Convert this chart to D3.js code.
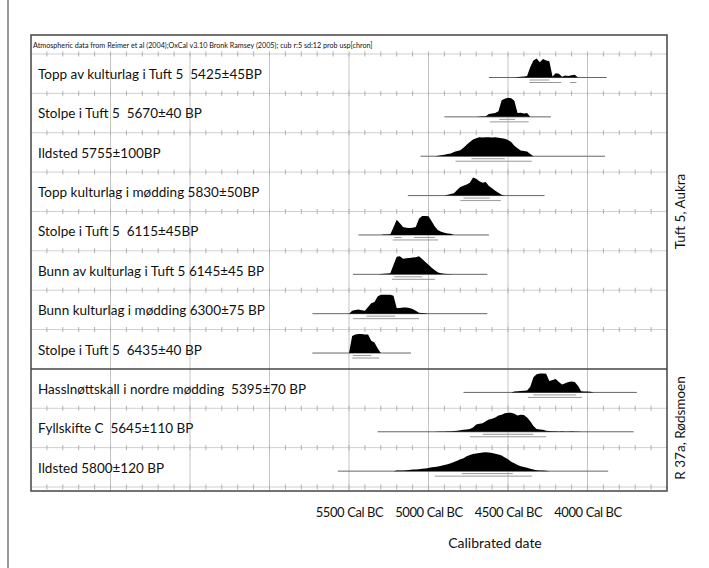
<!DOCTYPE html>
<html>
<head>
<meta charset="utf-8">
<script src="https://cdn.jsdelivr.net/npm/d3@7"></script>
<style>
  body { margin: 0; background: #fff; }
  text { font-family: Lato, "Open Sans", sans-serif; fill: #111; white-space: pre; }
</style>
</head>
<body>
<div id="chart"></div>
<script>
// sample labels, top to bottom
const labels = [
  'Topp av kulturlag i Tuft 5  5425±45BP',
  'Stolpe i Tuft 5  5670±40 BP',
  'Ildsted 5755±100BP',
  'Topp kulturlag i mødding 5830±50BP',
  'Stolpe i Tuft 5  6115±45BP',
  'Bunn av kulturlag i Tuft 5 6145±45 BP',
  'Bunn kulturlag i mødding 6300±75 BP',
  'Stolpe i Tuft 5  6435±40 BP',
  'Hasslnøttskall i nordre mødding  5395±70 BP',
  'Fyllskifte C  5645±110 BP',
  'Ildsted 5800±120 BP'
];
const groupNames = ['Tuft 5, Aukra', 'R 37a, Rødsmoen'];
const groupOf = [0, 0, 0, 0, 0, 0, 0, 0, 1, 1, 1];
const tickLabels = [5500, 5000, 4500, 4000];
const header = 'Atmospheric data from Reimer et al (2004);OxCal v3.10 Bronk Ramsey (2005); cub r:5 sd:12 prob usp[chron]';

// probability curves: first year (BC) and relative density every 20 years
const densityStep = 20;
const densityStart = [4460, 4700, 4960, 4900, 5300, 5320, 5500, 5500, 4480, 4960, 5220];
const densityValues = [
  [0, 3, 4, 5, 8, 55, 90, 100, 80, 98, 90, 85, 5, 22, 20, 4, 10, 8, 12, 14, 0],
  [0, 2, 3, 3, 15, 18, 20, 30, 88, 95, 100, 98, 85, 20, 22, 18, 20, 0],
  [0, 3, 5, 8, 12, 15, 22, 28, 32, 45, 60, 75, 88, 95, 100, 98, 100, 100, 99, 100, 97, 95, 92, 85, 75, 55, 42, 30, 28, 25, 12, 0],
  [0, 4, 8, 12, 30, 45, 52, 58, 68, 95, 88, 75, 68, 72, 50, 38, 25, 15, 5, 0],
  [0, 3, 3, 4, 40, 80, 62, 42, 38, 37, 38, 42, 85, 100, 100, 98, 72, 45, 25, 17, 12, 8, 6, 0],
  [0, 2, 3, 4, 5, 50, 92, 95, 82, 85, 86, 88, 90, 95, 80, 65, 50, 35, 22, 10, 5, 3, 2, 2, 0],
  [0, 15, 20, 22, 18, 15, 35, 55, 62, 90, 100, 100, 100, 99, 95, 30, 30, 32, 33, 30, 25, 15, 5, 3, 2, 0],
  [0, 90, 98, 100, 100, 98, 97, 65, 55, 25, 0],
  [0, 5, 6, 8, 9, 10, 30, 80, 95, 100, 100, 98, 60, 65, 70, 55, 42, 48, 55, 58, 55, 35, 6, 5, 5, 3, 0],
  [0, 1, 2, 2, 3, 3, 4, 6, 8, 10, 12, 15, 22, 38, 42, 45, 55, 65, 68, 75, 85, 90, 97, 100, 100, 95, 85, 90, 88, 75, 55, 30, 15, 12, 10, 6, 4, 3, 3, 2, 3, 2, 2, 3, 2, 1, 0],
  [0, 3, 4, 4, 5, 6, 8, 9, 10, 12, 14, 16, 20, 22, 25, 28, 32, 36, 42, 48, 55, 62, 68, 78, 85, 90, 93, 96, 98, 100, 98, 96, 92, 88, 82, 72, 62, 50, 42, 32, 26, 22, 18, 12, 8, 5, 4, 3, 2, 0]
];
// plotted extent of each row and the 68.2% / 95.4% ranges (years BC)
const extent = [[4620, 3880], [4900, 4230], [5050, 3890], [5130, 4270], [5440, 4620], [5475, 4630], [5730, 4630], [5730, 5110], [4780, 3690], [5320, 3710], [5570, 3870]];
const range68 = [
  [[4365, 4240]], [[4555, 4455]], [[4730, 4520]], [[4780, 4615]], [[5215, 5170], [5090, 4960]],
  [[5215, 5040]], [[5390, 5210]], [[5475, 5360]], [[4340, 4070]], [[4660, 4340]], [[4790, 4470]]
];
const range95 = [
  [[4365, 4165], [4110, 4070]], [[4615, 4370]], [[4830, 4350]], [[4800, 4545]], [[5225, 4940]],
  [[5230, 4960]], [[5475, 5060]], [[5480, 5310]], [[4375, 4035]], [[4740, 4260]], [[4960, 4350]]
];

const width = 709, height = 568;
const box = { left: 31, right: 667, top: 35, bottom: 491 };
const rowsTop = 54, rowsBottom = 487;

const svg = d3.select('#chart').append('svg')
  .attr('width', width)
  .attr('height', height);

const x = d3.scaleLinear().domain([7500, 3500]).range([box.left, box.right]);
const row = d3.scaleBand().domain(d3.range(labels.length)).range([rowsTop, rowsBottom]);
const h = d3.scaleLinear().domain([0, 100]).range([0, 19]);
const base = i => row(i) + 23.5;

// outer frame line on the left
svg.append('line')
  .attr('x1', 8).attr('x2', 8).attr('y1', 0).attr('y2', height)
  .attr('stroke', '#555').attr('stroke-width', 1.2);

// vertical grid every 500 years
svg.append('g').selectAll('line')
  .data(d3.range(4000, 7001, 500))
  .join('line')
  .attr('x1', d => x(d)).attr('x2', d => x(d))
  .attr('y1', rowsTop).attr('y2', box.bottom)
  .attr('stroke', '#c4c4c4').attr('stroke-width', 1);

// row separators with 100-year ticks
const minor = d3.range(3600, 7500, 100);
const sep = svg.append('g');
d3.range(labels.length + 1).forEach(i => {
  const y = i < labels.length ? row(i) : rowsBottom;
  if (i === 8) return;
  sep.append('line')
    .attr('x1', box.left).attr('x2', box.right)
    .attr('y1', y).attr('y2', y)
    .attr('stroke', '#cfcfcf').attr('stroke-width', 1);
  sep.selectAll(null).data(minor).join('line')
    .attr('x1', d => x(d)).attr('x2', d => x(d))
    .attr('y1', y - 2.5).attr('y2', y + 2.5)
    .attr('stroke', '#b0b0b0').attr('stroke-width', 1);
});

// extent line for each sample
svg.append('g').selectAll('line')
  .data(extent)
  .join('line')
  .attr('x1', d => x(d[0])).attr('x2', d => x(d[1]))
  .attr('y1', (d, i) => base(i)).attr('y2', (d, i) => base(i))
  .attr('stroke', '#666').attr('stroke-width', 1);

// calibrated probability distributions
const area = d3.area()
  .x(d => x(d.year))
  .y0(d => d.y0)
  .y1(d => d.y0 - h(d.p));

svg.append('g').selectAll('path')
  .data(densityValues)
  .join('path')
  .attr('d', (vals, i) => area(vals.map((p, j) => ({
    year: densityStart[i] - j * densityStep, p: p, y0: base(i)
  }))))
  .attr('fill', '#000');

// range bars under the curves
const ranges = svg.append('g');
labels.forEach((l, i) => {
  ranges.selectAll(null).data(range68[i]).join('line')
    .attr('x1', d => x(d[0])).attr('x2', d => x(d[1]))
    .attr('y1', base(i) + 2.5).attr('y2', base(i) + 2.5)
    .attr('stroke', '#999').attr('stroke-width', 1);
  ranges.selectAll(null).data(range95[i]).join('line')
    .attr('x1', d => x(d[0])).attr('x2', d => x(d[1]))
    .attr('y1', base(i) + 5).attr('y2', base(i) + 5)
    .attr('stroke', '#999').attr('stroke-width', 1);
});

// sample labels
svg.append('g').selectAll('text')
  .data(labels)
  .join('text')
  .attr('x', 38)
  .attr('y', (d, i) => row(i) + 25)
  .attr('font-size', 13.5)
  .text(d => d);

// header
svg.append('text')
  .attr('x', 33).attr('y', 48)
  .attr('font-size', 7.2)
  .text(header);

// frame and group divider
svg.append('rect')
  .attr('x', box.left).attr('y', box.top)
  .attr('width', box.right - box.left).attr('height', box.bottom - box.top)
  .attr('fill', 'none').attr('stroke', '#444').attr('stroke-width', 1.5);
svg.append('line')
  .attr('x1', box.left).attr('x2', box.right)
  .attr('y1', row(8)).attr('y2', row(8))
  .attr('stroke', '#444').attr('stroke-width', 1.5);

// group labels on the right
groupNames.forEach((g, k) => {
  const idx = d3.range(labels.length).filter(i => groupOf[i] === k);
  const y0 = row(idx[0]);
  const y1 = row(idx[idx.length - 1]) + row.bandwidth();
  svg.append('text')
    .attr('transform', `translate(${box.right + 18},${(y0 + y1) / 2}) rotate(-90)`)
    .attr('text-anchor', 'middle')
    .attr('font-size', 13.5)
    .text(g);
});

// date axis
const xAxis = d3.axisBottom(x)
  .tickValues(tickLabels)
  .tickSize(0)
  .tickPadding(0)
  .tickFormat(d => d + ' Cal BC');
const ax = svg.append('g')
  .attr('transform', 'translate(0,508)')
  .call(xAxis);
ax.select('.domain').remove();
ax.selectAll('text')
  .attr('font-size', 13)
  .attr('font-family', 'Lato, sans-serif')
  .attr('fill', '#111')
  .style('letter-spacing', '-0.4px');

svg.append('text')
  .attr('x', 495).attr('y', 548)
  .attr('text-anchor', 'middle')
  .attr('font-size', 14)
  .text('Calibrated date');
</script>
</body>
</html>
